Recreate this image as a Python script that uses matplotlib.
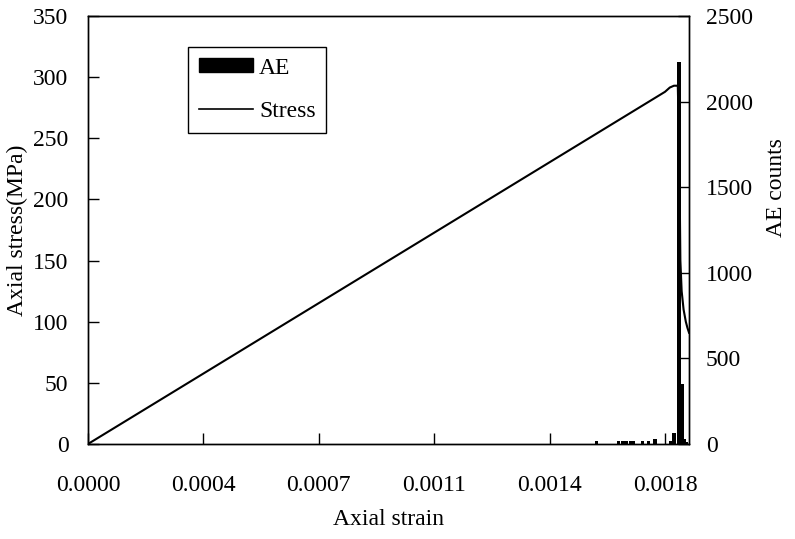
import matplotlib.pyplot as plt
from matplotlib.patches import Patch
from matplotlib.lines import Line2D

plt.rcParams['font.family'] = ['Liberation Serif', 'DejaVu Serif']
plt.rcParams['font.size'] = 17

# stress-strain curve
strain = [0.0, 0.0001, 0.0002, 0.0003, 0.0004, 0.0005, 0.0006, 0.0007, 0.0008,
          0.0009, 0.0010, 0.0011, 0.0012, 0.0013, 0.0014, 0.0015, 0.0016, 0.0017,
          0.0018, 0.001815, 0.001828, 0.001840, 0.001845, 0.001848, 0.001852,
          0.001858, 0.001865, 0.001870, 0.001875]
stress = [0.0, 16.0, 32.0, 48.0, 64.0, 80.0, 96.0, 112.0, 128.0,
          144.0, 160.0, 176.0, 192.0, 208.0, 224.0, 240.0, 256.0, 272.0,
          288.0, 291.5, 293.0, 293.0, 230.0, 150.0, 125.0,
          110.0, 100.0, 95.0, 91.0]

# acoustic emission counts
ae_strain = [0.001587, 0.001655, 0.001669, 0.001681, 0.001694, 0.001703,
             0.001730, 0.001749, 0.001769, 0.001816, 0.001828, 0.001844,
             0.001853, 0.001859, 0.001866]
ae_counts = [15, 15, 15, 15, 15, 15,
             20, 20, 30, 20, 65, 2230,
             350, 30, 10]

x_ticks = [0.0, 0.00036, 0.00072, 0.00108, 0.00144, 0.0018]

fig = plt.figure(figsize=(7.95, 5.39), dpi=100)
ax = fig.add_axes([0.1107, 0.1763, 0.756, 0.794])
ax2 = ax.twinx()

ax2.bar(ae_strain, ae_counts, width=1.0e-5, color='black', align='center', zorder=3)
ax.plot(strain, stress, color='black', linewidth=1.5, zorder=2)

ax.set_xlim(0, 0.001875)
ax.set_ylim(0, 350)
ax2.set_ylim(0, 2500)
ax.set_xticks(x_ticks)
ax.set_xticklabels(['%.4f' % v for v in x_ticks])
ax.set_yticks(range(0, 351, 50))
ax2.set_yticks(range(0, 2501, 500))

for a in (ax, ax2):
    a.tick_params(direction='in', length=8, width=1)
    for s in a.spines.values():
        s.set_linewidth(1)
ax.tick_params(axis='x', pad=22)
ax.tick_params(axis='y', pad=14)
ax2.tick_params(axis='y', pad=12)

ax.set_xlabel('Axial strain', labelpad=10)
ax.set_ylabel('Axial stress(MPa)')
ax.yaxis.set_label_coords(-0.1, 0.5)
ax2.set_ylabel('AE counts')
ax2.yaxis.set_label_coords(1.128, 0.6)

handles = [Patch(facecolor='black', edgecolor='black'),
           Line2D([], [], color='black', linewidth=1.2)]
leg = ax.legend(handles, ['AE', 'Stress'], loc='upper left',
                bbox_to_anchor=(0.1667, 0.9276), borderaxespad=0,
                frameon=True, fancybox=False,
                handlelength=2.3, handleheight=0.55, handletextpad=0.25,
                labelspacing=0.95, borderpad=0.45, framealpha=1)
leg.get_frame().set_edgecolor('black')
leg.get_frame().set_linewidth(1)
leg.set_zorder(5)

fig.savefig('out.png', dpi=100)
